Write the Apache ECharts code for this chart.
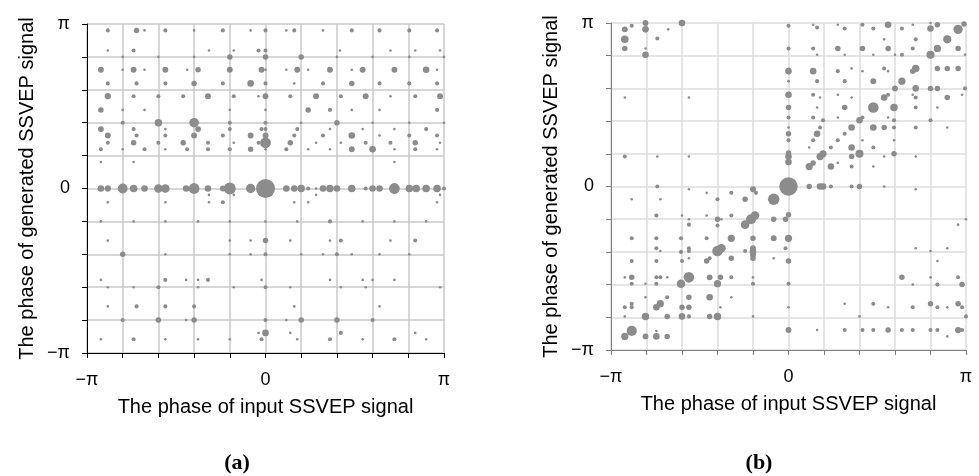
<!DOCTYPE html>
<html><head><meta charset="utf-8">
<script src="https://cdn.jsdelivr.net/npm/echarts@6/dist/echarts.min.js"></script>
<style>html,body{margin:0;padding:0;background:#fff}#c{width:979px;height:476px}</style>
</head><body><div id="c"></div>
<script>
// Phases in degrees (−180 = −π, 180 = π); third value = relative weight (count) of the bubble
const tickLabels = {'-180': '\u2212\u03c0', '0': '0', '180': '\u03c0'};
const xTitle = 'The phase of input SSVEP signal';
const yTitle = 'The phase of generated SSVEP signal';
const captions = ['(a)', '(b)'];

// ---------- panel (a) ----------
const aUpper = [
  [-159,173,3],[-130,173,6],[-122,173,1],[-101,173,3],[-72,173,1],[-43,173,3],[-15,173,1],[0,173,3],[21,173,1],[29,173,3],[58,173,1],[87,173,3],[115,173,3],[145,173,3],[173,173,3],
  [-159,151,1],[-133,151,3],[-57,151,1],[-32,151,1],[-7,151,3],[0,151,3],[75,151,1],[126,151,1],[151,151,1],[176,151,1],
  [-144,144,1],[-108,144,1],[-72,144,1],[-36,144,6],[0,144,6],[36,144,6],[72,144,1],[108,144,1],[145,144,1],[180,144,1],
  [-166,130,7],[-144,130,1],[-133,130,7],[-122,130,1],[-101,130,7],[-79,130,1],[-68,130,6],[-36,130,7],[-4,130,7],[0,130,1],[21,130,1],[32,130,7],[43,130,1],[65,130,7],[87,130,1],[98,130,7],[130,130,7],[162,130,9],[173,130,1],
  [-159,115,3],[-130,115,3],[-101,115,3],[-72,115,6],[-43,115,3],[-15,115,9],[0,115,3],[29,115,1],[58,115,3],[87,115,6],[115,115,3],[145,115,3],[173,115,3],
  [-159,101,8],[-133,101,3],[-108,101,3],[-83,101,3],[-58,101,7],[-32,101,3],[-7,101,1],[0,101,7],[25,101,3],[51,101,7],[76,101,3],[101,101,7],[126,101,1],[151,101,3],[176,101,7],
  [-166,86,6],[-144,86,1],[-122,86,1],[-36,86,1],[0,86,1],[43,86,6],[65,86,3],[87,86,1],[115,86,1],[173,86,3],
  [-144,72,3],[-108,72,12],[-72,72,20],[-36,72,3],[0,72,3],[36,72,1],[72,72,6],[108,72,1],[145,72,1],[180,72,1],
  [-166,65,7],[-133,65,3],[-101,65,1],[-68,65,7],[-36,65,3],[-4,65,3],[0,65,3],[32,65,3],[65,65,1],[98,65,1],[130,65,1],[162,65,3],
  [-159,58,7],[-130,58,3],[-101,58,3],[-72,58,7],[-43,58,3],[-15,58,7],[0,58,7],[29,58,3],[58,58,3],[87,58,9],[115,58,1],[145,58,3],[173,58,3],
  [-159,50,3],[-133,50,6],[-108,50,3],[-83,50,6],[-58,50,3],[-32,50,1],[-7,50,3],[0,50,26],[25,50,6],[51,50,1],[76,50,1],[101,50,3],[126,50,3],[151,50,6],[176,50,1],
  [-166,43,3],[-144,43,1],[-122,43,3],[-101,43,1],[-79,43,3],[-58,43,3],[-36,43,3],[-15,43,6],[0,43,1],[21,43,3],[43,43,1],[65,43,1],[87,43,7],[108,43,9],[130,43,1],[151,43,3],[173,43,1],
  [-166,29,1],[-133,29,1],[130,29,1]
];
const aZero = [
  [-166,0,9],[-159,0,8],[-144,0,22],[-133,0,12],[-122,0,9],[-108,0,16],[-101,0,16],[-80,0,9],[-72,0,26],[-58,0,9],[-43,0,7],[-36,0,32],[-15,0,19],[0,0,84],
  [21,0,9],[29,0,9],[36,0,12],[43,0,3],[51,0,1],[58,0,9],[65,0,12],[72,0,9],[87,0,12],[101,0,3],[108,0,9],[115,0,9],[130,0,26],[145,0,12],[152,0,12],[162,0,12],[173,0,12],[180,0,3]
];
const aLower = [
  [-57,-7,1],[-32,-7,1],[51,-7,1],[176,-7,1],
  [-159,-15,1],[-101,-15,1],[-57,-15,1],[-43,-15,3],[29,-15,1],[43,-15,1],[173,-15,1],
  [-166,-36,1],[-133,-36,1],[-101,-36,1],[-68,-36,1],[-36,-36,1],[0,-36,1],[32,-36,1],[65,-36,3],[98,-36,1],[130,-36,1],[162,-36,1],
  [-159,-57,1],[-36,-57,1],[-15,-57,1],[0,-57,6],[25,-57,1],[65,-57,1],[76,-57,3],[126,-57,1],[151,-57,3],
  [-144,-72,6],[-101,-72,1],[-36,-72,1],[-15,-72,1],[0,-72,3],[36,-72,1],[58,-72,1],[72,-72,3],[87,-72,1],[115,-72,1],[145,-72,1],
  [-166,-100,1],[-101,-100,3],[-80,-100,1],[-68,-100,1],[-58,-100,3],[-4,-100,1],[65,-100,1],[98,-100,1],[108,-100,1],[130,-100,1],
  [-159,-108,1],[-133,-108,1],[-108,-108,3],[-68,-108,1],[-32,-108,1],[0,-108,3],[25,-108,1],[76,-108,1],[101,-108,1],[176,-108,1],
  [-159,-129,1],[-130,-129,3],[-101,-129,3],[-72,-129,3],[29,-129,1],[115,-129,1],
  [-144,-144,3],[-108,-144,6],[-80,-144,1],[-72,-144,6],[0,-144,3],[21,-144,1],[36,-144,6],[72,-144,6],[108,-144,3],
  [-7,-158,1],[0,-158,9],[25,-158,1],[76,-158,3],[151,-158,1],
  [-166,-165,1],[-133,-165,3],[-101,-165,1],[-68,-165,1],[-36,-165,1],[-4,-165,3],[32,-165,1],[65,-165,3],[98,-165,1],[130,-165,3],[162,-165,1]
];

// ---------- panel (b) ----------
const bUpperLeft = [
  [-166,173,7],[-159,177,3],[-145,180,7],[-145,173,9],[-166,162,12],[-166,152,6],[-145,152,1],[-145,145,9],[-133,163,3],[-122,173,1],[-108,180,9],
  [-166,98,1],[-101,98,1],[-166,33,3],[-133,33,1],[-101,33,1],
  [0,177,3],[0,152,3],[0,127,9],[0,116,1],[0,101,9],[0,87,6],[0,76,3],[0,65,1],[0,58,6],[0,51,3],[0,37,6],[0,33,9],[0,27,9]
];
const bUpperRight = [
  [25,178,1],[50,178,1],[75,178,3],[101,178,9],[126,178,1],[144,180,1],[151,178,6],
  [29,175,3],[57,174,3],[86,174,3],[115,174,3],[144,174,9],[172,173,19],[178,179,6],
  [97,162,1],[129,162,3],[161,162,14],
  [25,152,3],[50,152,6],[75,152,6],[101,152,6],[126,152,3],[151,152,11],[172,152,6],
  [29,145,1],[57,145,1],[86,145,1],[108,145,1],[115,145,3],[144,145,14],[179,145,1],
  [25,127,9],[50,127,3],[64,130,1],[75,127,1],[97,130,3],[101,127,1],[126,127,6],[129,130,12],[151,130,6],[161,130,6],[172,130,6],
  [29,116,3],[57,116,3],[86,116,7],[115,116,11],
  [108,108,7],[129,108,9],[144,108,6],[151,108,6],[179,108,3],
  [25,101,3],[32,98,1],[50,101,1],[64,98,1],[97,98,9],[101,101,3],[126,101,1],[129,98,3],[161,98,6],[176,101,1],
  [29,87,1],[57,87,6],[86,87,25],[107,87,12],[129,87,3],[151,87,1],
  [25,76,3],[50,76,1],[75,76,3],[101,76,1],[144,73,3],[35,73,3],[72,73,9],[107,73,3],
  [32,65,3],[64,65,9],[86,65,9],[97,65,6],[107,65,3],[129,65,3],[161,65,1],
  [29,58,9],[57,58,3],
  [25,51,3],[50,51,3],[75,51,1],[107,51,1],
  [21,43,1],[43,43,3],[64,43,9],[86,43,3],
  [35,36,11],[32,33,11],[64,33,6],[72,36,14],[97,33,1],[107,36,6],[129,33,1],
  [21,22,11],[25,26,6],[43,22,9],[50,26,1],[64,22,3],[86,22,1]
];
const bZero = [
  [-133,0,3],[-101,-3,1],[-83,-7,1],[-58,-7,3],[-36,-3,7],[-33,-7,3],[0,0,80],
  [21,0,6],[32,0,9],[35,0,9],[43,0,3],[64,0,3],[72,0,6],[97,0,1],[129,-3,1]
];
const bLowerLeft = [
  [-159,-14,1],[-130,-14,1],[-72,-14,3],[-44,-14,6],[-15,-14,30],
  [-134,-32,3],[-108,-32,1],[-83,-32,1],[-72,-36,6],[-68,-36,1],[-58,-32,3],[-72,-43,3],[-101,-36,1],[-101,-42,3],[-44,-42,16],[-38,-36,22],[-34,-32,16],[-15,-36,6],[-3,-36,6],[0,-31,6],
  [-159,-57,3],[-134,-57,3],[-109,-57,3],[-83,-57,3],[-58,-57,11],[-36,-57,6],[-15,-57,7],[0,-57,11],
  [-134,-68,3],[-130,-71,1],[-109,-72,3],[-101,-68,3],[-101,-71,3],[-72,-71,25],[-68,-68,16],[-44,-71,3],[-36,-68,7],[-36,-72,9],[-36,-75,7],[-3,-68,3],
  [-159,-82,3],[-134,-82,3],[-108,-82,3],[-101,-79,1],[-83,-82,6],[-80,-79,3],[-58,-79,6],[-36,-79,6],[-15,-79,1],[0,-82,6],
  [-166,-100,1],[-159,-100,6],[-159,-107,3],[-145,-107,1],[-134,-100,3],[-134,-107,3],[-130,-100,3],[-123,-100,1],[-109,-107,16],[-101,-100,25],[-80,-100,7],[-72,-107,11],[-69,-100,6],[-58,-100,3],[-36,-100,1],[-36,-107,3],[0,-107,3],
  [-145,-122,1],[-123,-122,3],[-101,-122,6],[-80,-122,9],[-58,-122,1],
  [-166,-133,3],[-159,-129,3],[-159,-133,3],[-134,-133,9],[-130,-129,11],[-108,-133,6],[-101,-133,6],[-69,-133,1],[0,-133,1],
  [-166,-143,1],[-145,-143,12],[-123,-143,6],[-108,-143,9],[-101,-143,3],[-80,-143,6],[-72,-143,12],[-36,-143,1],
  [-166,-165,11],[-159,-159,23],[-145,-165,7],[-134,-159,1],[-134,-165,9],[-123,-165,6],[0,-158,7]
];
const bLowerRight = [
  [180,-36,1],[172,-42,1],[129,-68,1],[144,-71,1],[161,-68,1],[151,-82,1],
  [115,-100,6],[126,-108,1],[144,-100,1],[151,-108,3],[172,-100,3],[176,-108,6],
  [57,-129,1],[86,-129,3],[101,-133,1],[126,-133,3],[144,-129,6],[151,-133,3],[161,-133,1],[172,-129,6],[176,-133,3],[180,-143,3],[72,-143,1],
  [29,-158,1],[57,-158,3],[75,-158,3],[86,-158,3],[101,-158,6],[115,-158,3],[126,-158,3],[144,-158,3],[151,-158,3],[172,-158,8],[176,-158,3],[161,-165,1]
];

const FONT = '"Liberation Sans", Arial, sans-serif';
const fmt = v => tickLabels[String(Math.round(v))] || '';

function xAx(idx, axisColor, gridColor) {
  return {
    type: 'value', gridIndex: idx, min: -180, max: 180, interval: 36,
    name: xTitle, nameLocation: 'middle', nameGap: 44,
    nameTextStyle: {fontSize: 20, color: '#000', fontFamily: FONT},
    axisLine: {show: true, onZero: false, lineStyle: {color: axisColor, width: 1}},
    axisTick: {show: true, length: 5, lineStyle: {color: axisColor}},
    splitLine: {show: true, lineStyle: {color: gridColor, width: 1.5}},
    axisLabel: {formatter: fmt, fontSize: 18, color: '#000', margin: 18, fontFamily: FONT}
  };
}
function yAx(idx, axisColor, gridColor) {
  return {
    type: 'value', gridIndex: idx, min: -180, max: 180, interval: 36,
    name: yTitle, nameLocation: 'middle', nameGap: 50,
    nameTextStyle: {fontSize: 20, color: '#000', fontFamily: FONT},
    axisLine: {show: true, onZero: false, lineStyle: {color: axisColor, width: 1}},
    axisTick: {show: true, length: 5, lineStyle: {color: axisColor}},
    splitLine: {show: true, lineStyle: {color: gridColor, width: 1.5}},
    axisLabel: {formatter: fmt, fontSize: 18, color: '#000', margin: 17, fontFamily: FONT}
  };
}
const bubble = v => 0.6 + 2 * Math.sqrt(v[2]);
const DOT = '#8c8c8c';

const chart = echarts.init(document.getElementById('c'), null, {renderer: 'canvas'});
chart.setOption({
  animation: false,
  backgroundColor: '#fff',
  grid: [
    {left: 87, top: 24, width: 357, height: 329},
    {left: 611, top: 23, width: 355, height: 327}
  ],
  xAxis: [xAx(0, '#000', '#cacaca'), xAx(1, '#808080', '#dcdcdc')],
  yAxis: [yAx(0, '#000', '#cacaca'), yAx(1, '#808080', '#dcdcdc')],
  series: [
    {type: 'scatter', xAxisIndex: 0, yAxisIndex: 0, clip: false, symbolSize: bubble,
     itemStyle: {color: DOT, opacity: 1}, data: aUpper.concat(aZero, aLower)},
    {type: 'scatter', xAxisIndex: 1, yAxisIndex: 1, clip: false, symbolSize: bubble,
     itemStyle: {color: DOT, opacity: 1}, data: bUpperLeft.concat(bUpperRight, bZero, bLowerLeft, bLowerRight)}
  ],
  graphic: [
    {type: 'text', x: 237, y: 463, style: {text: captions[0], font: 'bold 22px "Liberation Serif", serif', fill: '#000', align: 'center', verticalAlign: 'middle'}},
    {type: 'text', x: 759, y: 463, style: {text: captions[1], font: 'bold 22px "Liberation Serif", serif', fill: '#000', align: 'center', verticalAlign: 'middle'}}
  ]
});
</script></body></html>
